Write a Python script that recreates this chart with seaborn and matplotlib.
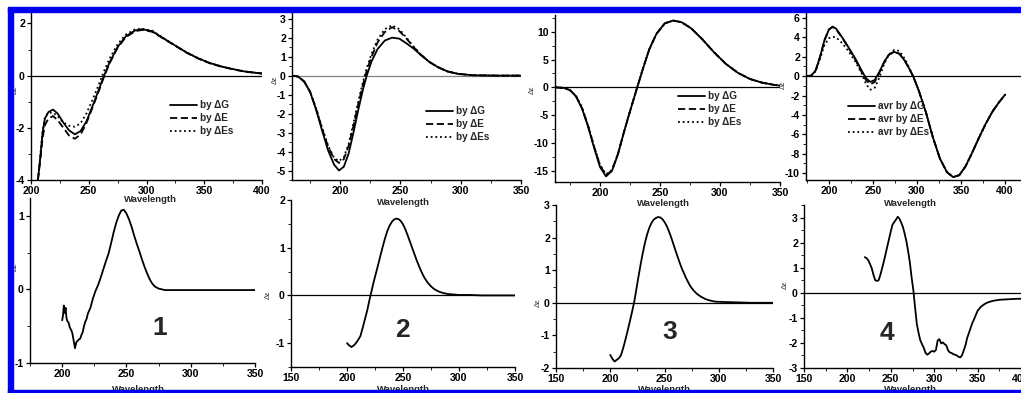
import numpy as np
import pandas as pd
import matplotlib
matplotlib.use("Agg")
import matplotlib.pyplot as plt
from matplotlib.patches import Rectangle
from matplotlib.ticker import MultipleLocator
import seaborn as sns

# ---------------- data ----------------
# Top row, panel 1 (calculated, compound 1)
p1_x = [206, 208, 210, 212, 215, 219, 223, 228, 233, 238, 243, 248, 253, 258, 263, 268, 275, 282, 290, 296, 305, 315, 325, 335, 345, 355, 365, 375, 385, 400]
p1_G = [-4.0, -3.15, -2.2, -1.65, -1.4, -1.3, -1.45, -1.8, -2.1, -2.25, -2.12, -1.75, -1.2, -0.62, -0.03, 0.5, 1.1, 1.5, 1.73, 1.78, 1.7, 1.42, 1.15, 0.88, 0.66, 0.48, 0.35, 0.25, 0.16, 0.08]
p1_E = [-4.0, -3.25, -2.4, -1.9, -1.65, -1.55, -1.7, -2.0, -2.3, -2.42, -2.25, -1.82, -1.25, -0.68, -0.07, 0.47, 1.07, 1.47, 1.7, 1.75, 1.68, 1.41, 1.14, 0.87, 0.65, 0.47, 0.34, 0.24, 0.15, 0.08]
p1_Es = [-4.0, -3.1, -2.15, -1.6, -1.42, -1.42, -1.55, -1.8, -1.92, -1.96, -1.82, -1.45, -0.95, -0.42, 0.15, 0.65, 1.2, 1.57, 1.77, 1.8, 1.72, 1.43, 1.15, 0.88, 0.66, 0.48, 0.35, 0.25, 0.16, 0.08]

# Top row, panel 2 (compound 2)
p2_x = [160, 165, 170, 175, 180, 185, 190, 195, 199, 203, 207, 211, 215, 219, 222, 226, 231, 237, 243, 249, 255, 261, 267, 274, 281, 289, 298, 310, 330, 350]
p2_G = [0, -0.05, -0.3, -0.85, -1.8, -2.9, -3.95, -4.7, -5.0, -4.8, -4.1, -3.0, -1.8, -0.7, 0.0, 0.75, 1.4, 1.85, 2.0, 1.95, 1.7, 1.42, 1.08, 0.72, 0.45, 0.22, 0.09, 0.02, 0, 0]
p2_E = [0, -0.05, -0.3, -0.85, -1.75, -2.8, -3.75, -4.4, -4.6, -4.4, -3.7, -2.65, -1.5, -0.45, 0.25, 1.0, 1.75, 2.3, 2.55, 2.35, 1.95, 1.5, 1.1, 0.72, 0.45, 0.22, 0.09, 0.02, 0, 0]
p2_Es = [0, -0.05, -0.3, -0.85, -1.72, -2.75, -3.7, -4.35, -4.5, -4.3, -3.6, -2.5, -1.35, -0.3, 0.4, 1.15, 1.9, 2.45, 2.65, 2.45, 2.0, 1.52, 1.1, 0.72, 0.45, 0.22, 0.09, 0.02, 0, 0]

# Top row, panel 3 (compound 3)
p3_x = [163, 170, 175, 180, 185, 190, 195, 200, 205, 210, 215, 220, 225, 231, 236, 241, 247, 254, 261, 268, 276, 285, 295, 305, 315, 325, 335, 345, 350]
p3_G = [0, -0.1, -0.5, -1.6, -3.8, -7.0, -10.8, -14.3, -16.0, -15.0, -12.0, -8.0, -4.3, 0, 3.5, 6.8, 9.6, 11.5, 12.0, 11.7, 10.6, 8.7, 6.3, 4.2, 2.6, 1.5, 0.85, 0.45, 0.32]
p3_E = [0, -0.1, -0.5, -1.6, -3.7, -6.9, -10.6, -14.0, -15.8, -14.9, -11.9, -8.0, -4.3, 0, 3.5, 6.8, 9.6, 11.5, 12.0, 11.7, 10.6, 8.7, 6.3, 4.2, 2.6, 1.5, 0.85, 0.45, 0.32]
p3_Es = [0, -0.1, -0.5, -1.55, -3.6, -6.8, -10.5, -13.9, -15.6, -14.8, -11.9, -8.0, -4.3, 0, 3.5, 6.8, 9.6, 11.5, 12.0, 11.7, 10.6, 8.7, 6.3, 4.2, 2.6, 1.5, 0.85, 0.45, 0.32]

# Top row, panel 4 (compound 4, averaged)
p4_x = [174, 180, 185, 190, 195, 200, 204, 208, 215, 222, 230, 237, 242, 247, 252, 257, 263, 268, 274, 280, 286, 291, 296, 302, 310, 318, 326, 334, 341, 348, 355, 362, 370, 378, 386, 393, 400]
p4_G = [0, 0.05, 0.6, 2.0, 3.7, 4.8, 5.1, 4.9, 4.0, 3.0, 1.8, 0.6, -0.2, -0.6, -0.4, 0.4, 1.5, 2.2, 2.5, 2.3, 1.6, 0.8, -0.1, -1.5, -3.7, -6.3, -8.5, -9.9, -10.4, -10.2, -9.3, -8.0, -6.4, -4.9, -3.6, -2.7, -1.9]
p4_E = [0, 0.05, 0.6, 2.0, 3.7, 4.8, 5.05, 4.85, 3.95, 2.95, 1.7, 0.45, -0.4, -0.85, -0.6, 0.3, 1.5, 2.2, 2.5, 2.3, 1.6, 0.8, -0.1, -1.5, -3.7, -6.3, -8.5, -9.9, -10.4, -10.2, -9.3, -8.0, -6.4, -4.9, -3.6, -2.7, -1.9]
p4_Es = [0, 0.05, 0.5, 1.8, 3.2, 3.9, 4.05, 4.0, 3.4, 2.6, 1.5, 0.3, -0.8, -1.4, -1.2, -0.2, 1.3, 2.2, 2.7, 2.6, 1.8, 0.9, -0.1, -1.5, -3.7, -6.3, -8.5, -9.9, -10.4, -10.2, -9.3, -8.0, -6.4, -4.9, -3.6, -2.7, -1.9]

# Bottom row: experimental spectra 1-4
e1_x = [200, 200.7, 201.3, 202, 202.7, 203.3, 204, 205, 206, 207, 208, 209, 210, 211, 212, 213, 214, 215, 216, 217, 218, 219, 220, 222, 224, 226, 228, 230, 232, 234, 236, 238, 240, 242, 244, 246, 248, 250, 252, 254, 256, 258, 260, 262, 264, 266, 268, 270, 272, 275, 280, 290, 300, 320, 340, 350]
e1_y = [-0.42, -0.35, -0.22, -0.32, -0.25, -0.38, -0.43, -0.45, -0.52, -0.55, -0.6, -0.7, -0.8, -0.72, -0.7, -0.68, -0.67, -0.62, -0.58, -0.5, -0.44, -0.4, -0.33, -0.25, -0.12, -0.02, 0.06, 0.16, 0.27, 0.38, 0.48, 0.62, 0.77, 0.9, 1.0, 1.07, 1.08, 1.03, 0.95, 0.85, 0.73, 0.62, 0.52, 0.41, 0.31, 0.22, 0.14, 0.08, 0.04, 0.01, -0.01, -0.01, -0.01, -0.01, -0.01, -0.01]

e2_x = [200, 202, 204, 206, 208, 210, 212, 214, 216, 218, 220, 222, 224, 226, 228, 230, 232, 234, 236, 238, 240, 242, 244, 246, 248, 250, 252, 254, 256, 258, 260, 262, 264, 266, 268, 270, 272, 275, 278, 282, 286, 290, 295, 300, 310, 320, 330, 340, 350]
e2_y = [-1.0, -1.05, -1.08, -1.05, -1.0, -0.93, -0.85, -0.68, -0.5, -0.32, -0.1, 0.1, 0.3, 0.48, 0.66, 0.85, 1.03, 1.2, 1.35, 1.46, 1.54, 1.59, 1.61, 1.6, 1.56, 1.49, 1.39, 1.27, 1.14, 1.01, 0.88, 0.75, 0.63, 0.52, 0.42, 0.34, 0.27, 0.19, 0.13, 0.08, 0.05, 0.03, 0.02, 0.01, 0.01, 0.0, 0.0, 0.0, 0.0]

e3_x = [200, 202, 204, 206, 208, 210, 212, 214, 216, 218, 220, 222, 224, 226, 228, 230, 232, 234, 236, 238, 240, 242, 244, 246, 248, 250, 252, 254, 256, 258, 260, 262, 264, 266, 268, 270, 272, 274, 277, 280, 284, 288, 292, 296, 300, 310, 320, 330, 340, 350]
e3_y = [-1.6, -1.72, -1.8, -1.75, -1.7, -1.6, -1.38, -1.13, -0.86, -0.58, -0.29, 0.01, 0.4, 0.8, 1.18, 1.53, 1.84, 2.1, 2.3, 2.45, 2.55, 2.6, 2.63, 2.62, 2.57, 2.48, 2.36, 2.2, 2.02, 1.82, 1.62, 1.42, 1.23, 1.05, 0.9, 0.75, 0.62, 0.5, 0.37, 0.27, 0.18, 0.11, 0.07, 0.04, 0.03, 0.02, 0.01, 0.0, 0.0, 0.0]

e4_x = [220, 222, 224, 226, 228, 230, 232, 234, 236, 238, 240, 242, 244, 246, 248, 250, 252, 254, 256, 258, 260, 262, 264, 266, 268, 270, 272, 274, 276, 278, 280, 282, 284, 286, 288, 290, 292, 294, 296, 298, 300, 302, 304, 306, 308, 310, 312, 314, 316, 318, 320, 322, 324, 326, 328, 330, 332, 334, 336, 338, 340, 342, 344, 346, 348, 350, 354, 358, 362, 368, 375, 385, 395, 400]
e4_y = [1.42, 1.38, 1.3, 1.15, 0.98, 0.72, 0.5, 0.47, 0.5, 0.72, 0.98, 1.25, 1.55, 1.85, 2.15, 2.45, 2.72, 2.82, 2.92, 3.03, 2.95, 2.8, 2.62, 2.35, 2.05, 1.65, 1.2, 0.6, 0.1, -0.6, -1.25, -1.6, -1.9, -2.05, -2.2, -2.4, -2.47, -2.42, -2.35, -2.32, -2.35, -2.28, -1.9, -1.85, -2.02, -1.98, -2.05, -2.1, -2.3, -2.38, -2.4, -2.45, -2.47, -2.5, -2.55, -2.58, -2.5, -2.3, -2.1, -1.8, -1.6, -1.4, -1.2, -1.05, -0.88, -0.72, -0.55, -0.45, -0.38, -0.32, -0.28, -0.26, -0.24, -0.24]

calc_labels = ["by \u0394G", "by \u0394E", "by \u0394Es"]
avr_labels = ["avr by \u0394G", "avr by \u0394E", "avr by \u0394Es"]
compound_labels = ["1", "2", "3", "4"]

# ---------------- style ----------------
sns.set_style("ticks")
plt.rcParams["font.family"] = ["Liberation Sans", "DejaVu Sans"]
plt.rcParams["font.weight"] = "bold"
plt.rcParams["axes.unicode_minus"] = False

W, H = 1021, 393
fig = plt.figure(figsize=(W / 100, H / 100), dpi=100)
fig.patch.set_facecolor("white")


def add_ax(l, t, r, b):
    ax = fig.add_axes([l / W, 1 - b / H, (r - l) / W, (b - t) / H])
    ax.set_facecolor("none")
    for s in ["top", "right"]:
        ax.spines[s].set_visible(False)
    for s in ["left", "bottom"]:
        ax.spines[s].set_linewidth(1.0)
        ax.spines[s].set_color("black")
    ax.tick_params(which="major", direction="out", length=3.2, width=0.9,
                   labelsize=7.6, pad=1.2, colors="black")
    ax.tick_params(which="minor", direction="out", length=2, width=0.7)
    return ax


def finish(ax, xlim, ylim, xmaj, ymaj):
    ax.set_xlim(*xlim)
    ax.set_ylim(*ylim)
    ax.xaxis.set_major_locator(MultipleLocator(xmaj))
    ax.xaxis.set_minor_locator(MultipleLocator(xmaj / 2))
    ax.yaxis.set_major_locator(MultipleLocator(ymaj))
    ax.yaxis.set_minor_locator(MultipleLocator(ymaj / 2))
    ax.set_xlabel("")
    ax.set_ylabel("")
    for lb in ax.get_xticklabels() + ax.get_yticklabels():
        lb.set_fontweight("bold")


def calc_panel(box, x, ys, labels, xlim, ylim, xmaj, ymaj, leg_px, zero_color="black"):
    ax = add_ax(*box)
    ax.axhline(0, color=zero_color, lw=0.9, zorder=1)
    styles = ["-", (0, (4, 2)), (0, (1, 1.6))]
    for y, lab, ls in zip(ys, labels, styles):
        sns.lineplot(x=x, y=y, ax=ax, color="black", lw=1.3, linestyle=ls,
                     label=lab, errorbar=None, zorder=3)
    finish(ax, xlim, ylim, xmaj, ymaj)
    h, l = ax.get_legend_handles_labels()
    ax.legend(h, l, loc="upper left",
              bbox_to_anchor=(leg_px[0] / W, 1 - leg_px[1] / H),
              bbox_transform=fig.transFigure, frameon=False,
              prop={"size": 7.2, "weight": "bold"}, handlelength=2.7,
              handletextpad=0.25, labelspacing=0.3, borderpad=0,
              borderaxespad=0)
    return ax


def exp_panel(box, x, y, xlim, ylim, xmaj, ymaj, zero=True):
    ax = add_ax(*box)
    if zero:
        ax.axhline(0, color="black", lw=0.9, zorder=1)
    sns.lineplot(x=x, y=y, ax=ax, color="black", lw=1.3, errorbar=None, zorder=3)
    finish(ax, xlim, ylim, xmaj, ymaj)
    return ax


calc_panel((31, 13, 262, 180), p1_x, [p1_G, p1_E, p1_Es], calc_labels,
           (200, 400), (-4, 2.4), 50, 2, (170, 100))
calc_panel((292, 13, 521, 180), p2_x, [p2_G, p2_E, p2_Es], calc_labels,
           (160, 350), (-5.5, 3.3), 50, 1, (426, 106), zero_color="#808080")
calc_panel((555, 15, 780, 182), p3_x, [p3_G, p3_E, p3_Es], calc_labels,
           (162.5, 350), (-17, 13), 50, 5, (678, 91))
calc_panel((806, 13, 1021, 180), p4_x, [p4_G, p4_E, p4_Es], avr_labels,
           (174, 418), (-10.7, 6.5), 50, 2, (848, 101))

exp_panel((30, 198, 255, 363), e1_x, e1_y, (175, 350), (-1, 1.24), 50, 1, zero=False)
exp_panel((291, 200, 515, 367), e2_x, e2_y, (150, 350), (-1.5, 2), 50, 1)
exp_panel((556, 205, 773, 368), e3_x, e3_y, (150, 350), (-2, 3), 50, 1)
exp_panel((804, 205, 1021, 368), e4_x, e4_y, (150, 400), (-3, 3.5), 50, 1)

# axis titles
for cx, cy in [(150, 199), (403, 202), (663, 203), (910, 203),
               (138, 389), (403, 389), (664, 389), (910, 389)]:
    fig.text(cx / W, 1 - cy / H, "Wavelength", ha="center", va="center",
             fontsize=6.8, fontweight="bold")

for cx, cy in [(15, 90), (275, 80), (532, 90), (783, 85),
               (15, 267), (268, 295), (538, 303), (785, 285)]:
    fig.text(cx / W, 1 - cy / H, "\u0394\u03b5", ha="center", va="center",
             rotation=90, fontsize=5.5, fontweight="normal", color="#333333")

# compound numbers
for lab, (cx, cy) in zip(compound_labels, [(160, 328), (402, 330), (670, 332), (887, 333)]):
    fig.text(cx / W, 1 - cy / H, lab, ha="center", va="center",
             fontsize=19, fontweight="bold")

# blue frame
blue = "#0000EE"
fig.patches.append(Rectangle((8 / W, 1 - 12 / H), (W - 8) / W, 5 / H,
                             transform=fig.transFigure, color=blue, zorder=20))
fig.patches.append(Rectangle((8 / W, 0), 5 / W, (H - 8) / H,
                             transform=fig.transFigure, color=blue, zorder=20))
fig.patches.append(Rectangle((8 / W, 0), (W - 8) / W, 3.5 / H,
                             transform=fig.transFigure, color=blue, zorder=20))

fig.savefig("out.png", dpi=100)
